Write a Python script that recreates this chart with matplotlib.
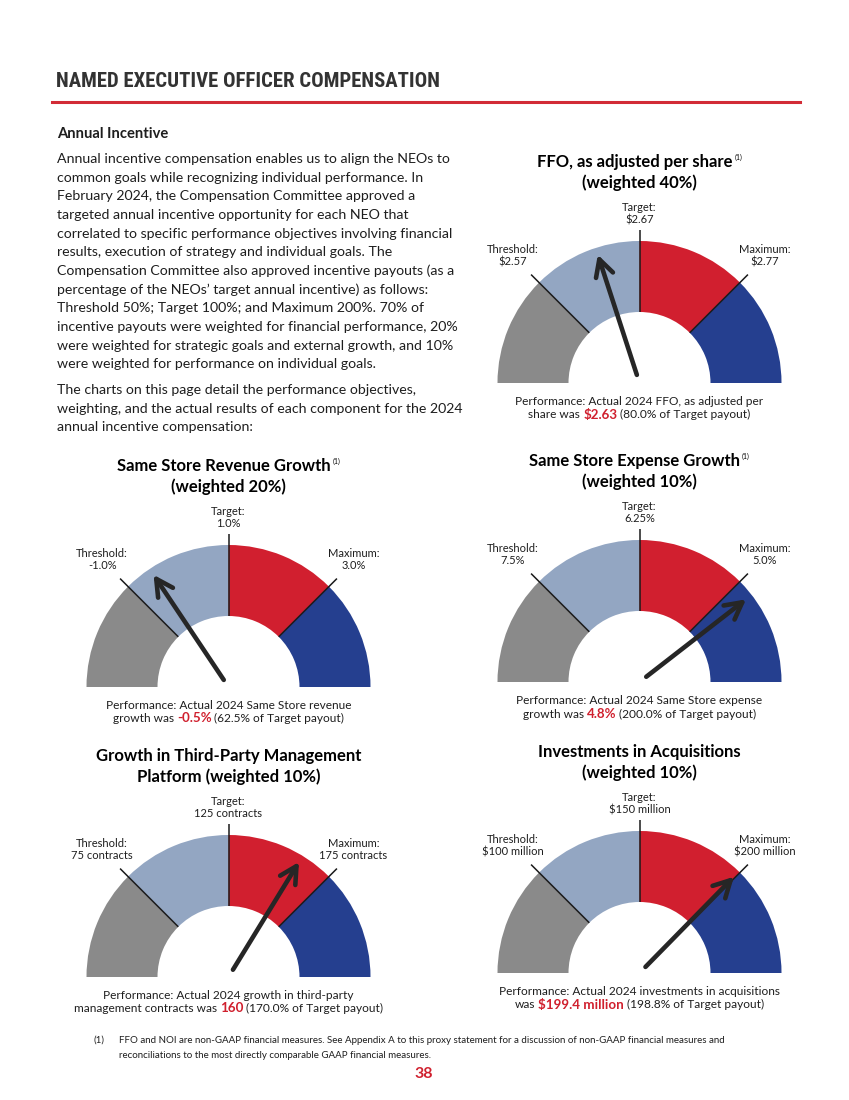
import numpy as np
import matplotlib
matplotlib.use("Agg")
import matplotlib.pyplot as plt
from matplotlib.patches import Wedge
from matplotlib.transforms import ScaledTranslation
from matplotlib import font_manager

plt.rcParams['font.family'] = ['Lato', 'DejaVu Sans']

W, H, DPI = 849, 1100, 100
RED = "#d0202e"
INK = "#1e1e1e"

# ---- page text ----
PAGE_TITLE = "NAMED EXECUTIVE OFFICER COMPENSATION"
SECTION = "Annual Incentive"
PARA1 = [
    "Annual incentive compensation enables us to align the NEOs to",
    "common goals while recognizing individual performance. In",
    "February 2024, the Compensation Committee approved a",
    "targeted annual incentive opportunity for each NEO that",
    "correlated to specific performance objectives involving financial",
    "results, execution of strategy and individual goals. The",
    "Compensation Committee also approved incentive payouts (as a",
    "percentage of the NEOs\u2019 target annual incentive) as follows:",
    "Threshold 50%; Target 100%; and Maximum 200%. 70% of",
    "incentive payouts were weighted for financial performance, 20%",
    "were weighted for strategic goals and external growth, and 10%",
    "were weighted for performance on individual goals.",
]
PARA2 = [
    "The charts on this page detail the performance objectives,",
    "weighting, and the actual results of each component for the 2024",
    "annual incentive compensation:",
]
FOOTNOTE = [
    "FFO and NOI are non-GAAP financial measures. See Appendix A to this proxy statement for a discussion of non-GAAP financial measures and",
    "reconciliations to the most directly comparable GAAP financial measures.",
]
PAGE_NO = "38"

# ---- gauge data ----
TITLE_1 = ["FFO, as adjusted per share", "Same Store Revenue Growth", "Same Store Expense Growth",
           "Growth in Third-Party Management", "Investments in Acquisitions"]
TITLE_2 = ["(weighted 40%)", "(weighted 20%)", "(weighted 10%)",
           "Platform (weighted 10%)", "(weighted 10%)"]
FOOTNOTED = [True, True, True, False, False]
THRESHOLD = [2.57, -1.0, 7.5, 75, 100]
TARGET = [2.67, 1.0, 6.25, 125, 150]
MAXIMUM = [2.77, 3.0, 5.0, 175, 200]
ACTUAL = [2.63, -0.5, 4.8, 160, 199.4]
THRESHOLD_LBL = ["$2.57", "-1.0%", "7.5%", "75 contracts", "$100 million"]
TARGET_LBL = ["$2.67", "1.0%", "6.25%", "125 contracts", "$150 million"]
MAXIMUM_LBL = ["$2.77", "3.0%", "5.0%", "175 contracts", "$200 million"]
PERF_LINE1 = ["Performance: Actual 2024 FFO, as adjusted per",
              "Performance: Actual 2024 Same Store revenue",
              "Performance: Actual 2024 Same Store expense",
              "Performance: Actual 2024 growth in third-party",
              "Performance: Actual 2024 investments in acquisitions"]
PERF_PRE = ["share was", "growth was", "growth was", "management contracts was", "was"]
PERF_VALUE = ["$2.63", "-0.5%", "4.8%", "160", "$199.4 million"]
PAYOUT = ["80.0%", "62.5%", "200.0%", "170.0%", "198.8%"]

ZONE_SHARE = [1, 1, 1, 1]
ZONE_COLORS = ["#8a8a8a", "#93a6c2", "#d11f2f", "#253f8f"]

# gauge centres on the page (px) and outer radius
CENTERS = [(639.5, 383), (228.5, 687), (639.5, 682), (228.5, 977), (639.5, 973)]
R = 142
INNER = 0.5

installed = {f.name for f in font_manager.fontManager.ttflist}
HEAD_FONT = [f for f in ["Liberation Sans Narrow", "Roboto Condensed", "Lato"] if f in installed][:1] + ["DejaVu Sans"]

fig = plt.figure(figsize=(W / DPI, H / DPI), dpi=DPI)
renderer = fig.canvas.get_renderer()


def px(x, y):
    return x / W, 1 - y / H


def text_width(t):
    return t.get_window_extent(renderer).width


def rich_line(ax, x, y, parts, transform=None, gap=None, size=9):
    """parts: list of (text, kwargs); centred as one line at (x, y)"""
    base = transform if transform is not None else ax.transData
    if gap is None:
        probe = ax.text(0, 0, "x x", fontsize=size, transform=base)
        probe2 = ax.text(0, 0, "xx", fontsize=size, transform=base)
        gap = text_width(probe) - text_width(probe2)
        probe.remove()
        probe2.remove()
    items = []
    for s, kw in parts:
        kw = dict(kw)
        dy = kw.pop("dy", 0)
        g = kw.pop("gap", gap)
        t = ax.text(x, y, s, transform=base, ha="left", va="baseline",
                    fontsize=kw.pop("fontsize", size), clip_on=False, **kw)
        items.append((t, text_width(t), dy, g))
    total = sum(w for _, w, _, _ in items) + sum(g for _, _, _, g in items[1:])
    off = -total / 2
    for i, (t, w, dy, g) in enumerate(items):
        if i > 0:
            off += g
        t.set_transform(base + ScaledTranslation(off / DPI, dy / DPI, fig.dpi_scale_trans))
        off += w


def needle_angle(v, lo, mid, hi):
    if (v - mid) * (hi - mid) >= 0:
        a = 90 - 45 * (v - mid) / (hi - mid)
    else:
        a = 90 + 45 * (v - mid) / (lo - mid)
    return float(np.clip(a, 0, 180))


# ---- page header ----
t = fig.text(*px(56, 87), PAGE_TITLE, fontsize=15, fontweight="bold", color="#333333",
             va="baseline", family=HEAD_FONT)
t.set_fontsize(min(15 * 386 / text_width(t), 15))
fig.add_artist(plt.Line2D([52 / W, 800 / W], [1 - 102 / H] * 2, color="#d22b36", lw=2.2))
fig.text(*px(57, 138), SECTION, fontsize=10.6, fontweight="bold", color=INK, va="baseline")
for i, line in enumerate(PARA1):
    fig.text(*px(57, 163 + 18.65 * i), line, fontsize=10.2, color=INK, va="baseline")
for i, line in enumerate(PARA2):
    fig.text(*px(57, 394 + 18.6 * i), line, fontsize=10.2, color=INK, va="baseline")

# ---- gauges ----
for k, (cx, cy) in enumerate(CENTERS):
    ax = fig.add_axes([(cx - 1.5 * R) / W, 1 - (cy + 0.35 * R) / H, 3 * R / W, 2.05 * R / H])
    ax.set_xlim(-1.5, 1.5)
    ax.set_ylim(-0.35, 1.7)
    ax.axis("off")

    edges = 180 - 180 * np.concatenate([[0], np.cumsum(ZONE_SHARE)]) / sum(ZONE_SHARE)
    for a0, a1, c in zip(edges[1:], edges[:-1], ZONE_COLORS):
        ax.add_patch(Wedge((0, 0), 1.0, a0, a1, width=1 - INNER, facecolor=c, edgecolor="none"))

    for a in edges[1:-1]:
        th = np.radians(a)
        ax.plot([INNER * np.cos(th), 1.08 * np.cos(th)], [INNER * np.sin(th), 1.08 * np.sin(th)],
                color="#1a1a1a", lw=1.1, solid_capstyle="butt")

    ang = np.radians(needle_angle(ACTUAL[k], THRESHOLD[k], TARGET[k], MAXIMUM[k]))
    ax.annotate("", xy=(0.95 * np.cos(ang), 0.95 * np.sin(ang)),
                xytext=(0.06 * np.cos(ang), 0.06 * np.sin(ang)),
                arrowprops=dict(arrowstyle="->,head_length=0.6,head_width=0.32", lw=3.3,
                                color="#262626", shrinkA=0, shrinkB=0, mutation_scale=20))

    # title
    parts = [(TITLE_1[k], dict(fontweight="bold", color="black"))]
    if FOOTNOTED[k]:
        parts.append(("(1)", dict(fontsize=5, color="black", dy=7, gap=2)))
    rich_line(ax, 0, 1.52, parts, size=12)
    rich_line(ax, 0, 1.37, [(TITLE_2[k], dict(fontweight="bold", color="black"))], size=12)

    lbl = dict(ha="center", va="baseline", fontsize=8, color=INK)
    ax.text(0, 1.21, "Target:", **lbl)
    ax.text(0, 1.125, TARGET_LBL[k], **lbl)
    ax.text(-0.89, 0.915, "Threshold:", **lbl)
    ax.text(-0.89, 0.83, THRESHOLD_LBL[k], **lbl)
    ax.text(0.88, 0.915, "Maximum:", **lbl)
    ax.text(0.88, 0.83, MAXIMUM_LBL[k], **lbl)

    rich_line(ax, 0, -0.155, [(PERF_LINE1[k], dict(color=INK))], size=8.6)
    rich_line(ax, 0, -0.25, [(PERF_PRE[k], dict(color=INK)),
                              (PERF_VALUE[k], dict(color=RED, fontweight="bold", fontsize=9.6)),
                              (f"({PAYOUT[k]} of Target payout)", dict(color=INK))], size=8.6)

# ---- footer ----
fig.text(*px(93, 1043), "(1)", fontsize=7, color=INK, va="baseline")
for i, line in enumerate(FOOTNOTE):
    fig.text(*px(119, 1043 + 14.5 * i), line, fontsize=7, color=INK, va="baseline")
fig.text(*px(424, 1078), PAGE_NO, fontsize=11.5, fontweight="bold", color=RED,
         ha="center", va="baseline")

fig.savefig("out.png", dpi=DPI)
